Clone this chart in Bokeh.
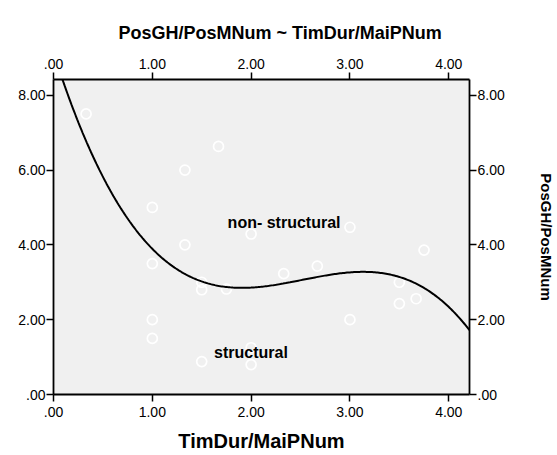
import numpy as np
from bokeh.plotting import figure
from bokeh.models import (Range1d, LinearAxis, FixedTicker, CustomJSTickFormatter, Label, ColumnDataSource)
from bokeh.embed import file_html
from bokeh.resources import INLINE

# Data
tim_dur = [0.33, 1.0, 1.0, 1.0, 1.0, 1.33, 1.33, 1.5, 1.5, 1.5, 1.67, 1.75,
           2.0, 2.0, 2.0, 2.33, 2.67, 3.0, 3.0, 3.5, 3.5, 3.67, 3.75]
pos_gh = [7.5, 5.0, 3.5, 2.0, 1.5, 6.0, 4.0, 3.0, 2.8, 0.88, 6.63, 2.82,
          4.29, 1.25, 0.8, 3.23, 3.43, 4.47, 2.0, 3.0, 2.43, 2.56, 3.86]
x_ticks = [0, 1, 2, 3, 4]
y_ticks = [0, 2, 4, 6, 8]
title_text = "PosGH/PosMNum  ~  TimDur/MaiPNum"
x_label = "TimDur/MaiPNum"
y_label = "PosGH/PosMNum"
region_labels = ["non- structural", "structural"]
region_x = [1.762, 1.625]
region_y = [4.6, 1.13]

FONT = "Liberation Sans"

# cubic regression fit of the data
coef = np.polyfit(tim_dur, pos_gh, 3)
fx = np.linspace(0.0, 4.21, 300)
fy = np.polyval(coef, fx)

p = figure(width=557, height=455, output_backend="svg", toolbar_location=None,
           x_range=Range1d(0, 4.21), y_range=Range1d(0, 8.42),
           x_axis_location=None, y_axis_location=None,
           min_border_left=53, min_border_right=84, min_border_top=79, min_border_bottom=61)
p.background_fill_color = "#F0F0F0"
p.border_fill_color = "white"
p.outline_line_color = None
p.xgrid.visible = False
p.ygrid.visible = False

fmt = CustomJSTickFormatter(code="var s = tick.toFixed(2); return s.replace(/^0\\./, '.');")

def style(ax, standoff):
    ax.axis_line_color = "black"
    ax.axis_line_width = 1.8
    ax.major_tick_line_color = "black"
    ax.major_tick_line_width = 1.5
    ax.major_tick_out = 7
    ax.major_tick_in = 0
    ax.minor_tick_line_color = None
    ax.major_label_text_font = FONT
    ax.major_label_text_font_size = "14px"
    ax.major_label_text_color = "black"
    ax.major_label_standoff = standoff
    ax.formatter = fmt
    ax.axis_label_text_font = FONT
    ax.axis_label_text_font_style = "bold"
    ax.axis_label_text_color = "black"

bottom = LinearAxis(ticker=FixedTicker(ticks=x_ticks), axis_label=x_label)
style(bottom, 5)
bottom.axis_label_text_font_size = "20px"
bottom.axis_label_standoff = 10
p.add_layout(bottom, "below")

top = LinearAxis(ticker=FixedTicker(ticks=x_ticks))
style(top, 4)
p.add_layout(top, "above")

left = LinearAxis(ticker=FixedTicker(ticks=y_ticks))
style(left, 1)
p.add_layout(left, "left")

right = LinearAxis(ticker=FixedTicker(ticks=y_ticks), axis_label=y_label)
style(right, 1)
right.axis_label_text_font_size = "15px"
right.axis_label_standoff = 30
p.add_layout(right, "right")

p.title.text = title_text
p.title.text_font = FONT
p.title.text_font_size = "18px"
p.title.text_font_style = "bold"
p.title.text_color = "black"
p.title.align = "left"
p.title.offset = 65
p.title.vertical_align = "top"
p.title.standoff = 22

src = ColumnDataSource(dict(x=tim_dur, y=pos_gh))
p.scatter("x", "y", source=src, size=10, fill_color=None, line_color="white", line_width=1.7)
p.line(fx, fy, line_color="black", line_width=2)

for t, lx, ly in zip(region_labels, region_x, region_y):
    p.add_layout(Label(x=lx, y=ly, text=t, text_font=FONT, text_font_size="16px",
                       text_font_style="bold", text_baseline="middle", text_color="black"))

open("out.html", "w").write(file_html(p, INLINE))
